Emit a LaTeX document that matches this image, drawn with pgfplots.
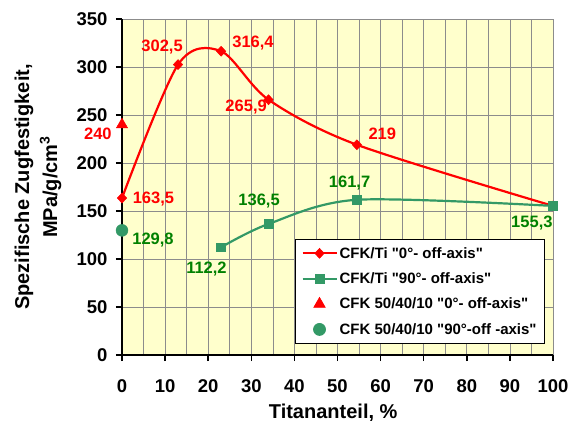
\documentclass[border=0pt]{standalone}
\usepackage{pgfplots}
\pgfplotsset{compat=1.18}
\usepackage{fontspec}
\setmainfont{Liberation Sans}[Ligatures=TeXOff]
\definecolor{cred}{RGB}{255,0,0}
\definecolor{cgreen}{RGB}{51,153,102}
\definecolor{cdkgreen}{RGB}{0,128,0}
\definecolor{plotbg}{RGB}{255,255,204}

\begin{document}
\begin{tikzpicture}
\begin{axis}[
  at={(0pt,0pt)}, anchor=south west,
  scale only axis, width=431pt, height=336pt,
  xmin=0, xmax=100, ymin=0, ymax=350,
  xtick={0,10,...,100}, ytick={0,50,...,350},
  minor xtick={5,15,...,95},
  grid=both,
  major grid style={draw=black!45, line width=0.6pt},
  minor grid style={draw=black!45, line width=0.6pt},
  axis background/.style={fill=plotbg},
  axis line style={draw=none},
  xtick pos=bottom, ytick pos=left,
  tick align=outside, major tick length=6pt, minor tick length=0pt,
  every tick/.style={black, line width=1.5pt},
  /pgf/number format/assume math mode=true,
  ticklabel style={font=\fontsize{18.5}{21}\selectfont\bfseries},
  xticklabel style={yshift=-15pt},
  yticklabel style={xshift=-5pt},
  xlabel={Titananteil, \%},
  ylabel={Spezifische Zugfestigkeit,\\MPa/g/cm\textsuperscript{3}},
  label style={font=\fontsize{20}{28}\selectfont\bfseries},
  xlabel style={at={(rel axis cs:0.49,0)}, anchor=base, yshift=-63pt},
  ylabel style={at={(rel axis cs:-0.195,0.5)}, anchor=center, align=center},
  clip=false,
  legend style={at={(rel axis cs:0.9814,0.0327)}, anchor=south east, draw=black,
    line width=0.8pt, fill=white, font=\fontsize{15}{17}\selectfont\bfseries,
    row sep=9pt, inner xsep=6pt, inner ysep=6pt},
  legend cell align=left,
  legend image code/.code={
    \draw[mark repeat=2, mark phase=2] plot coordinates {(0pt,0pt) (17pt,0pt) (34pt,0pt)};},
]
% axis lines on the left and bottom
\draw[line width=1.5pt] (rel axis cs:0,1) -- (rel axis cs:0,0) -- (rel axis cs:1,0);

\addplot[cred, line width=2.2pt, smooth, mark=diamond*, mark size=5pt,
  mark options={solid, line width=0.5pt, xscale=1.25}]
  coordinates {(0,163.5) (13,302.5) (23,316.4) (34,265.9) (54.5,219) (100,155.3)};
\addlegendentry{CFK/Ti "0°- off-axis"}

\addplot[cgreen, line width=2.2pt, smooth, mark=square*, mark size=4.4pt,
  mark options={solid, line width=0.5pt}]
  coordinates {(23,112.2) (34,136.5) (54.5,161.7) (100,155.3)};
\addlegendentry{CFK/Ti "90°- off-axis"}

\addplot[only marks, cred, mark=triangle*, mark size=6.5pt]
  coordinates {(0,240)};
\addlegendentry{CFK 50/40/10 "0°- off-axis"}

\addplot[only marks, cgreen, mark=*, mark size=6pt]
  coordinates {(0,129.8)};
\addlegendentry{CFK 50/40/10 "90°-off -axis"}

% value labels
\begin{scope}[every node/.style={font=\fontsize{16.5}{18}\selectfont\bfseries}]
\node[cred] at (axis cs:7.3,162.5) {163,5};
\node[cred] at (axis cs:9.3,320.8) {302,5};
\node[cred] at (axis cs:30.4,325) {316,4};
\node[cred] at (axis cs:28.8,258.3) {265,9};
\node[cred] at (axis cs:60.4,230) {219};
\node[cred] at (axis cs:-5.6,230) {240};
\node[cdkgreen] at (axis cs:7.2,119.8) {129,8};
\node[cdkgreen] at (axis cs:19.6,89.6) {112,2};
\node[cdkgreen] at (axis cs:31.8,160.4) {136,5};
\node[cdkgreen] at (axis cs:52.8,179) {161,7};
\node[cdkgreen] at (axis cs:95.1,137.5) {155,3};
\end{scope}
\end{axis}
\pgfresetboundingbox
\path[use as bounding box] (-122pt,-66pt) rectangle (452pt,355pt);
\end{tikzpicture}
\end{document}
